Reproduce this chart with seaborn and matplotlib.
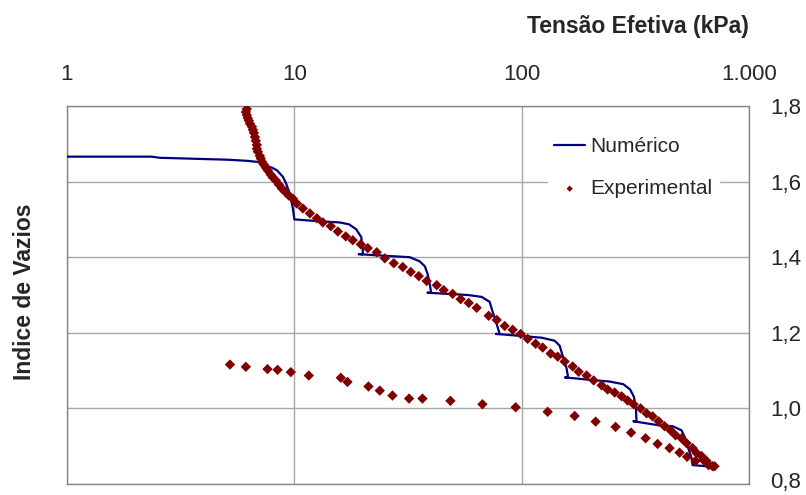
import matplotlib
matplotlib.use("Agg")
import matplotlib.pyplot as plt
import matplotlib.transforms as mtransforms
import seaborn as sns
import pandas as pd

sns.set_style("white")
plt.rcParams["font.family"] = ["Liberation Sans", "DejaVu Sans"]

# Numerical consolidation curve (effective stress in kPa, void ratio)
num_stress = [1.0, 2.36, 2.56, 5.05, 6.18, 6.91, 7.27, 7.96, 8.38, 8.90, 9.20, 9.55, 9.85, 10.0,
              12.9, 15.8, 17.4, 18.7, 19.7, 20.0, 20.0, 19.2,
              26.3, 32.2, 35.6, 37.5, 38.6, 39.4, 40.0, 38.5,
              58.0, 66.7, 72.3, 74.6, 77.6, 80.0, 77.0,
              98.0, 122.4, 139.7, 146.9, 151.5, 157.7, 160.0, 155.0,
              205.0, 244.0, 280.0, 300.0, 312.0, 318.0, 320.0, 310.0,
              404.0, 461.0, 505.0, 520.0, 537.0, 559.0, 565.0, 651.0]
num_void = [1.666, 1.666, 1.663, 1.658, 1.655, 1.652, 1.645, 1.637, 1.630, 1.613, 1.595, 1.568, 1.530, 1.500,
            1.495, 1.492, 1.487, 1.474, 1.453, 1.421, 1.408, 1.408,
            1.403, 1.400, 1.389, 1.376, 1.355, 1.329, 1.306, 1.306,
            1.300, 1.295, 1.282, 1.255, 1.224, 1.197, 1.197,
            1.192, 1.187, 1.179, 1.166, 1.139, 1.105, 1.082, 1.082,
            1.075, 1.071, 1.064, 1.050, 1.030, 1.000, 0.966, 0.966,
            0.955, 0.953, 0.942, 0.926, 0.900, 0.868, 0.850, 0.847]

# Laboratory oedometer readings: loading branch
exp_load_stress = [6.18, 6.12, 6.18, 6.24, 6.31, 6.38, 6.51, 6.57, 6.64, 6.71, 6.77, 6.84, 6.84, 6.91,
                   7.05, 7.12, 7.20, 7.34, 7.49, 7.65, 7.88, 8.04, 8.29, 8.55, 8.81, 9.08, 9.46, 9.85,
                   10.26, 10.90, 11.70, 12.56, 13.35, 14.47, 15.54, 16.84, 18.07, 19.61, 21.04, 23.05,
                   25.0, 27.38, 29.99, 32.5, 35.27, 38.22, 42.3, 45.4, 49.7, 53.9, 58.5, 63.4, 71.6,
                   77.7, 84.2, 91.3, 99.0, 106.3, 115.2, 123.7, 134.1, 144.0, 154.5, 167.6, 178.1,
                   193.1, 207.3, 224.7, 238.8, 256.4, 275.2, 292.4, 310.7, 333.5, 354.4, 376.6, 400.2,
                   425.2, 451.7, 475.2, 505.0, 531.3, 564.5, 587.9, 618.4, 631.0, 650.5, 663.8, 691.3,
                   705.3]
exp_load_void = [1.792, 1.784, 1.776, 1.768, 1.761, 1.753, 1.745, 1.737, 1.729, 1.718, 1.708, 1.697,
                 1.687, 1.679, 1.668, 1.661, 1.653, 1.645, 1.637, 1.629, 1.618, 1.611, 1.603, 1.592,
                 1.582, 1.574, 1.563, 1.555, 1.542, 1.529, 1.516, 1.503, 1.492, 1.482, 1.468, 1.455,
                 1.445, 1.434, 1.424, 1.413, 1.397, 1.384, 1.374, 1.361, 1.350, 1.337, 1.326, 1.313,
                 1.303, 1.289, 1.279, 1.266, 1.245, 1.234, 1.218, 1.208, 1.197, 1.184, 1.171, 1.161,
                 1.145, 1.137, 1.124, 1.111, 1.097, 1.087, 1.074, 1.061, 1.050, 1.042, 1.032, 1.021,
                 1.011, 1.000, 0.987, 0.979, 0.966, 0.953, 0.942, 0.929, 0.921, 0.908, 0.895, 0.882,
                 0.874, 0.863, 0.861, 0.850, 0.847, 0.847]

# Laboratory oedometer readings: unloading branch
exp_unload_stress = [5.21, 6.12, 7.62, 8.44, 9.65, 11.58, 16.01, 17.13, 21.19, 23.76, 27.02, 31.96,
                     36.61, 48.6, 67.2, 94.1, 130.1, 171.0, 211.5, 258.9, 302.9, 350.8, 396.2,
                     447.2, 494.9, 534.0, 582.0]
exp_unload_void = [1.116, 1.110, 1.104, 1.102, 1.096, 1.087, 1.081, 1.070, 1.058, 1.047, 1.034, 1.026,
                   1.026, 1.020, 1.011, 1.003, 0.991, 0.980, 0.965, 0.951, 0.936, 0.921, 0.906,
                   0.895, 0.883, 0.872, 0.861]

x_ticks = [1, 10, 100, 1000]
x_tick_labels = ["1", "10", "100", "1.000"]
y_ticks = [0.8, 1.0, 1.2, 1.4, 1.6, 1.8]
y_tick_labels = ["0,8", "1,0", "1,2", "1,4", "1,6", "1,8"]

num_df = pd.DataFrame({"stress": num_stress, "void": num_void})
exp_df = pd.DataFrame({"stress": exp_load_stress + exp_unload_stress,
                       "void": exp_load_void + exp_unload_void})

fig = plt.figure(figsize=(8.06, 4.95), dpi=100)
ax = fig.add_axes([67 / 806, 11 / 495, 682 / 806, 378 / 495])
ax.set_xscale("log")

sns.lineplot(data=num_df, x="stress", y="void", sort=False, estimator=None,
             color="#000080", linewidth=1.6, ax=ax, label="Numérico", zorder=3)
sns.scatterplot(data=exp_df, x="stress", y="void", marker="D", s=28, color="#800000",
                edgecolor="none", linewidth=0, ax=ax, label="Experimental", zorder=4)

ax.set_xlim(1, 1000)
ax.set_ylim(0.8, 1.8)
ax.xaxis.set_minor_locator(plt.NullLocator())
ax.set_xticks(x_ticks)
ax.set_xticklabels(x_tick_labels)
ax.set_yticks(y_ticks)
ax.set_yticklabels(y_tick_labels)
ax.xaxis.tick_top()
ax.yaxis.tick_right()
ax.tick_params(axis="x", length=0, pad=15, labelsize=16)
ax.tick_params(axis="y", length=0, pad=15, labelsize=16)
ax.set_xlabel("")
ax.set_ylabel("")
ax.grid(True, color="#a6a6a6", linewidth=1.0)
for sp in ax.spines.values():
    sp.set_color("#868686")
    sp.set_linewidth(1.0)

# lift the lowest right-hand label so it stays inside the canvas
fig.canvas.draw()
low_label = ax.yaxis.get_major_ticks()[0].label2
low_label.set_transform(low_label.get_transform()
                        + mtransforms.ScaledTranslation(0, 4 / 100, fig.dpi_scale_trans))

leg = ax.legend(loc="upper left", bbox_to_anchor=(0.705, 0.934), frameon=True,
                fontsize=15, labelspacing=1.1, handlelength=1.5, handletextpad=0.25,
                borderpad=0.3, borderaxespad=0, markerscale=0.6)
leg.get_frame().set_facecolor("white")
leg.get_frame().set_edgecolor("white")
leg.get_frame().set_alpha(1.0)
leg.get_frame().set_boxstyle("square", pad=0)

fig.text(638 / 806, 1 - 26 / 495, "Tensão Efetiva (kPa)", ha="center", va="center",
         fontsize=16.5, fontweight="bold")
fig.text(25 / 806, 1 - 292 / 495, "Indice de Vazios", ha="center", va="center",
         rotation=90, fontsize=16.5, fontweight="bold")

fig.savefig("out.png", dpi=100)
